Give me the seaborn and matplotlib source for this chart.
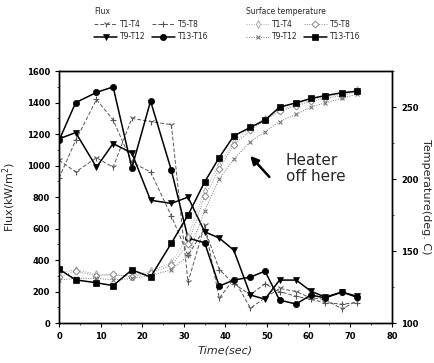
import matplotlib
matplotlib.use("Agg")
import matplotlib.pyplot as plt
import seaborn as sns
import pandas as pd
from matplotlib.ticker import MultipleLocator

sns.set_theme(style="white")
plt.rcParams['font.family'] = ['DejaVu Sans']

time_s = [0, 4, 9, 13, 17.5, 22, 27, 31, 35, 38.5, 42, 46, 49.5, 53, 57, 60.5, 64, 68, 71.5]

flux_t1_t4 = [1035, 960, 1050, 990, 1300, 1280, 1260, 260, 620, 158, 280, 95, 160, 220, 200, 160, 150, 90, 140]
flux_t5_t8 = [920, 1160, 1420, 1290, 1020, 960, 680, 430, 600, 340, 250, 180, 250, 200, 170, 150, 130, 120, 130]
flux_t9_t12 = [1170, 1210, 990, 1140, 1080, 780, 760, 800, 580, 540, 463, 178, 152, 273, 273, 203, 165, 197, 171]
flux_t13_t16 = [1160, 1400, 1465, 1500, 985, 1410, 970, 540, 510, 235, 273, 292, 330, 146, 121, 178, 160, 197, 165]

temp_t1_t4 = [135, 137, 134, 133, 133, 136, 142, 160, 192, 210, 226, 236, 242, 248, 252, 255, 257, 259, 262]
temp_t5_t8 = [132, 136, 133, 134, 132, 135, 140, 155, 188, 207, 224, 234, 241, 247, 251, 254, 256, 258, 261]
temp_t9_t12 = [130, 131, 131, 130, 131, 133, 137, 147, 178, 200, 214, 226, 233, 240, 245, 250, 253, 256, 259]
temp_t13_t16 = [137.5, 130, 128, 126, 137, 132, 155.5, 175, 198, 215, 230, 236, 241, 250, 253, 256, 258, 260, 261]

labels = ["T1-T4", "T5-T8", "T9-T12", "T13-T16"]

fig = plt.figure(figsize=(4.34, 3.63), dpi=100)
ax = fig.add_axes([0.136, 0.110, 0.767, 0.694])
ax2 = ax.twinx()

flux_styles = [
    dict(marker="1", linestyle=(0, (4, 2)), color="#555555", lw=0.7, ms=4.5, mew=0.8),
    dict(marker="+", linestyle=(0, (4, 2)), color="#555555", lw=0.7, ms=4.5, mew=0.8),
    dict(marker="v", linestyle="-", color="black", lw=1.1, ms=4.5, mew=0.5),
    dict(marker="o", linestyle="-", color="black", lw=1.1, ms=4.5, mew=0.5),
]
temp_styles = [
    dict(marker="d", linestyle=(0, (1, 1.5)), color="#aaaaaa", lw=0.7, ms=4, mfc="white", mew=0.7),
    dict(marker="D", linestyle=(0, (1, 1.5)), color="#888888", lw=0.7, ms=3.5, mfc="white", mew=0.7),
    dict(marker="x", linestyle=(0, (1, 1.5)), color="#777777", lw=0.7, ms=3.5, mew=0.8),
    dict(marker="s", linestyle="-", color="black", lw=1.1, ms=4.5, mew=0.5),
]

flux_series = [flux_t1_t4, flux_t5_t8, flux_t9_t12, flux_t13_t16]
temp_series = [temp_t1_t4, temp_t5_t8, temp_t9_t12, temp_t13_t16]

flux_handles = []
for lab, vals, st in zip(labels, flux_series, flux_styles):
    df = pd.DataFrame({"t": time_s, "v": vals})
    sns.lineplot(data=df, x="t", y="v", ax=ax, color=st["color"], linewidth=st["lw"],
                 marker=st["marker"], markersize=st["ms"], markeredgewidth=st["mew"],
                 markeredgecolor=st["color"], legend=False)
    line = ax.get_lines()[-1]
    line.set_linestyle(st["linestyle"])
    flux_handles.append(line)

temp_handles = []
for lab, vals, st in zip(labels, temp_series, temp_styles):
    df = pd.DataFrame({"t": time_s, "v": vals})
    sns.lineplot(data=df, x="t", y="v", ax=ax2, color=st["color"], linewidth=st["lw"],
                 marker=st["marker"], markersize=st["ms"], markeredgewidth=st["mew"],
                 markeredgecolor=st["color"], legend=False)
    line = ax2.get_lines()[-1]
    line.set_linestyle(st["linestyle"])
    if "mfc" in st:
        line.set_markerfacecolor(st["mfc"])
    temp_handles.append(line)

ax.set_xlim(0, 80)
ax.set_ylim(0, 1600)
ax2.set_ylim(100, 275)
ax.xaxis.set_major_locator(MultipleLocator(10))
ax.xaxis.set_minor_locator(MultipleLocator(5))
ax.yaxis.set_major_locator(MultipleLocator(200))
ax.yaxis.set_minor_locator(MultipleLocator(100))
ax2.yaxis.set_major_locator(MultipleLocator(50))
ax2.yaxis.set_minor_locator(MultipleLocator(25))

for a in (ax, ax2):
    for sp in a.spines.values():
        sp.set_color("black")
        sp.set_linewidth(1.0)
ax.tick_params(axis="both", which="major", direction="out", length=3, width=0.8,
               labelsize=6, colors="black", bottom=True, left=True)
ax.tick_params(axis="both", which="minor", direction="out", length=1.5, width=0.6,
               bottom=True, left=True)
ax2.tick_params(axis="y", which="major", direction="out", length=3, width=0.8,
                labelsize=6, colors="black", right=True)
ax2.tick_params(axis="y", which="minor", direction="out", length=1.5, width=0.6, right=True)
for lbl in ax.get_xticklabels() + ax.get_yticklabels() + ax2.get_yticklabels():
    lbl.set_fontweight("bold")

ax.set_xlabel("Time(sec)", fontsize=8, style="italic", labelpad=3)
ax.set_ylabel("Flux(kW/m$^2$)", fontsize=8, labelpad=6)
ax2.set_ylabel("Temperature(deg. C)", fontsize=8, rotation=270, labelpad=9)
ax.grid(False)
ax2.grid(False)

ax.annotate("", xy=(45.5, 1075), xytext=(51, 915),
            arrowprops=dict(arrowstyle="-|>", color="black", lw=1.8, mutation_scale=12))
ax.text(54.5, 980, "Heater\noff here", fontsize=11, ha="left", va="center", linespacing=1.1)

order = [0, 2, 1, 3]
leg1 = fig.legend([flux_handles[i] for i in order], [labels[i] for i in order],
                  title="Flux", loc="upper left",
                  bbox_to_anchor=(0.21, 0.99), ncol=2, fontsize=5.5, title_fontsize=5.5,
                  frameon=False, handlelength=3, columnspacing=0.8, handletextpad=0.4,
                  borderaxespad=0, labelspacing=0.5)
leg1._legend_box.align = "left"
leg2 = fig.legend([temp_handles[i] for i in order], [labels[i] for i in order],
                  title="Surface temperature", loc="upper left",
                  bbox_to_anchor=(0.56, 0.99), ncol=2, fontsize=5.5, title_fontsize=5.5,
                  frameon=False, handlelength=3, columnspacing=0.8, handletextpad=0.4,
                  borderaxespad=0, labelspacing=0.5)
leg2._legend_box.align = "left"

fig.savefig("out.png", dpi=100)
